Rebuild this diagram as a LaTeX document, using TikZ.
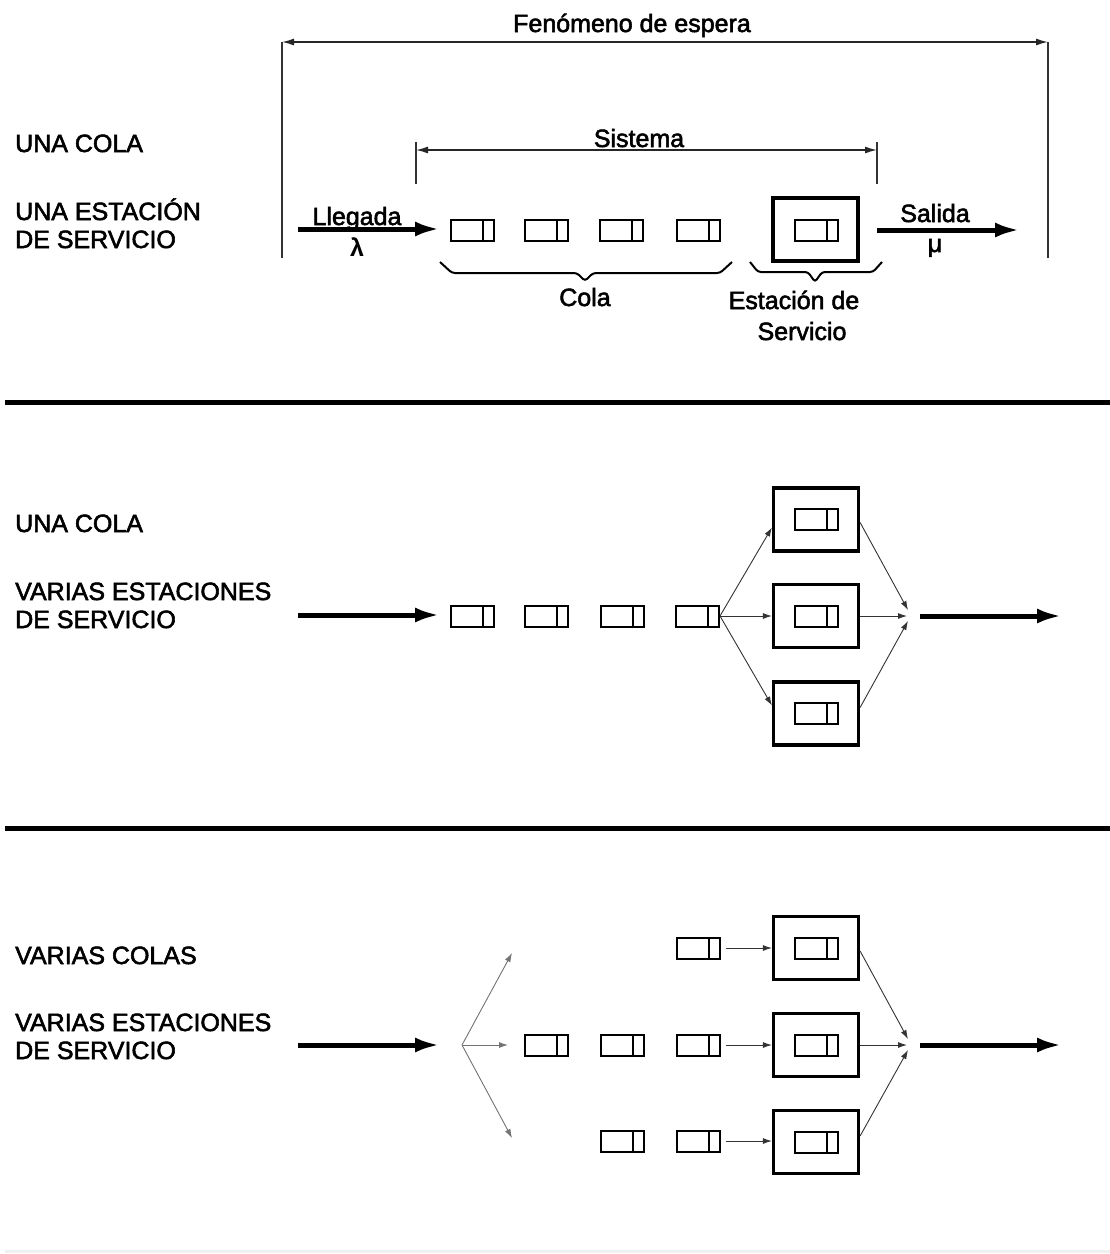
\documentclass[tikz,border=0pt]{standalone}
\usepackage{fontspec}
\setmainfont{Liberation Sans}
\newfontfamily\lblfont{Liberation Sans}[FakeBold=2.2]
\usetikzlibrary{arrows.meta,calc}
\begin{document}
\begin{tikzpicture}[x=1pt,y=-1pt,
  lbl/.style={font=\lblfont\fontsize{25}{29}\selectfont, inner sep=0pt, anchor=base west},
  txt/.style={font=\lblfont\fontsize{25}{29}\selectfont, inner sep=0pt, anchor=base},
  qbox/.style={draw, line width=2pt, minimum width=43pt, minimum height=21pt, inner sep=0pt,
    path picture={\draw[line width=2pt] ([xshift=-11pt]path picture bounding box.north east) -- ([xshift=-11pt]path picture bounding box.south east);}},
  station/.style={draw, line width=3.2pt, minimum width=85pt, minimum height=63pt, inner sep=0pt},
  thickarrow/.style={line width=5pt, -{Latex[length=25pt,width=15pt]}},
  thinarrow/.style={line width=0.9pt, black!80, -{Latex[length=9pt,width=6pt]}},
  dimline/.style={line width=1.4pt, black!85, {Latex[length=12pt,width=7pt]}-{Latex[length=12pt,width=7pt]}},
  extline/.style={line width=1.1pt, black!80},
  brace/.style={line width=2pt, rounded corners=3pt},
  sepline/.style={line width=5pt}
]
\useasboundingbox (0,0) rectangle (1110,1254);

% ---------------- Section 1 ----------------
\coordinate (fL) at (282,42);
\coordinate (fR) at (1048,42);
\coordinate (fLb) at (282,258);
\coordinate (fRb) at (1048,258);
\draw[dimline] (fL) -- (fR);
\draw[extline] (fL) -- (fLb);
\draw[extline] (fR) -- (fRb);
\node[txt] (fen) at (632,32) {Fenómeno de espera};

\coordinate (sL) at (416,150);
\coordinate (sR) at (877,150);
\coordinate (sLb) at (416,184);
\coordinate (sRb) at (877,184);
\draw[extline] (416,142) -- (sLb);
\draw[extline] (877,142) -- (sRb);
\draw[dimline] (sL) -- (sR);
\node[txt] (sis) at (639,147) {Sistema};

\node[lbl] (l1a) at (15,152) {UNA COLA};
\node[lbl] (l1b) at (15,220) {UNA ESTACIÓN};
\node[lbl] (l1c) at (15,248) {DE SERVICIO};

\coordinate (inA) at (298,229);
\coordinate (inAe) at (440,229);
\draw[thickarrow] (inA) -- (inAe);
\node[txt] (lleg) at (357,225) {Llegada};
\node[txt, font=\fontsize{25}{29}\selectfont\bfseries] (lam) at (357,256) {λ};

\node[qbox] (a1) at (472,230) {};
\node[qbox] (a2) at (546.5,230) {};
\node[qbox] (a3) at (621.5,230) {};
\node[qbox] (a4) at (698,230) {};
\node[station] (as) at (815.5,229.5) {};
\node[qbox] (asi) at (816,230.5) {};

\coordinate (outA) at (877,230);
\coordinate (outAe) at (1020,230);
\draw[thickarrow] (outA) -- (outAe);
\node[txt] (sal) at (935,222) {Salida};
\node[txt] (mu) at (935,252) {μ};

\draw[brace] (440,262) -- (452,273) -- (577,273) -- (585,281) -- (593,273) -- (720,273) -- (732,262);
\draw[brace] (750,262) -- (758,272) -- (808,272) -- (815,282) -- (822,272) -- (873,272) -- (882,262);
\node[txt] (cola) at (585,306) {Cola};
\node[txt] (est) at (794,309) {Estación de};
\node[txt] (serv) at (802,340) {Servicio};

\draw[sepline] (5,402) -- (1110,402);

% ---------------- Section 2 ----------------
\node[lbl] (l2a) at (15,532) {UNA COLA};
\node[lbl] (l2b) at (15,600) {VARIAS ESTACIONES};
\node[lbl] (l2c) at (15,628) {DE SERVICIO};

\coordinate (inB) at (298,615);
\coordinate (inBe) at (440,615);
\draw[thickarrow] (inB) -- (inBe);

\node[qbox] (b1) at (472.5,616) {};
\node[qbox] (b2) at (546,616) {};
\node[qbox] (b3) at (622,616) {};
\node[qbox] (b4) at (697.5,616) {};

\node[station] (bs1) at (816,519.5) {};
\node[qbox] (bs1i) at (816,519.5) {};
\node[station] (bs2) at (816,616) {};
\node[qbox] (bs2i) at (816,616) {};
\node[station] (bs3) at (816,713.5) {};
\node[qbox] (bs3i) at (816,713.5) {};

\draw[thinarrow] (b4.east) -- ($(bs1.west)+(0,8)$);
\draw[thinarrow] (b4.east) -- (bs2.west);
\draw[thinarrow] (b4.east) -- ($(bs3.west)+(0,-8)$);

\coordinate (mB) at (909,616);
\draw[thinarrow] ($(bs1.east)+(0,3)$) -- ($(mB)+(-1,-6)$);
\draw[thinarrow] (bs2.east) -- ($(mB)+(-2,0)$);
\draw[thinarrow] ($(bs3.east)+(0,-6)$) -- ($(mB)+(-1,5)$);

\coordinate (outB) at (920,616);
\coordinate (outBe) at (1062,616);
\draw[thickarrow] (outB) -- (outBe);

\draw[sepline] (5,828) -- (1110,828);

% ---------------- Section 3 ----------------
\node[lbl] (l3a) at (15,964) {VARIAS COLAS};
\node[lbl] (l3b) at (15,1031) {VARIAS ESTACIONES};
\node[lbl] (l3c) at (15,1059) {DE SERVICIO};

\coordinate (inC) at (298,1045);
\coordinate (inCe) at (440,1045);
\draw[thickarrow] (inC) -- (inCe);

\coordinate (split) at (462,1045);
\coordinate (spT) at (512,953);
\coordinate (spM) at (508,1045);
\coordinate (spB) at (512,1138);
\draw[thinarrow, black!55] (split) -- (spT);
\draw[thinarrow, black!55] (split) -- (spM);
\draw[thinarrow, black!55] (split) -- (spB);

\node[qbox] (c1) at (698,948) {};
\node[qbox] (c2) at (546,1045) {};
\node[qbox] (c3) at (622,1045) {};
\node[qbox] (c4) at (698,1045) {};
\node[qbox] (c5) at (622,1141) {};
\node[qbox] (c6) at (698,1141) {};

\node[station] (cs1) at (816,948) {};
\node[qbox] (cs1i) at (816,948) {};
\node[station] (cs2) at (816,1045) {};
\node[qbox] (cs2i) at (816,1045) {};
\node[station] (cs3) at (816,1142) {};
\node[qbox] (cs3i) at (816,1142) {};

\draw[thinarrow] ($(c1.east)+(5,0)$) -- (cs1.west |- c1.east);
\draw[thinarrow] ($(c4.east)+(5,0)$) -- (cs2.west |- c4.east);
\draw[thinarrow] ($(c6.east)+(5,0)$) -- (cs3.west |- c6.east);

\coordinate (mC) at (909,1045);
\draw[thinarrow] ($(cs1.east)+(0,3)$) -- ($(mC)+(-1,-6)$);
\draw[thinarrow] (cs2.east) -- ($(mC)+(-2,0)$);
\draw[thinarrow] ($(cs3.east)+(0,-6)$) -- ($(mC)+(-1,5)$);

\coordinate (outC) at (920,1045);
\coordinate (outCe) at (1062,1045);
\draw[thickarrow] (outC) -- (outCe);

\draw[gray!12, line width=3pt] (5,1251) -- (1110,1251);
\end{tikzpicture}
\end{document}
